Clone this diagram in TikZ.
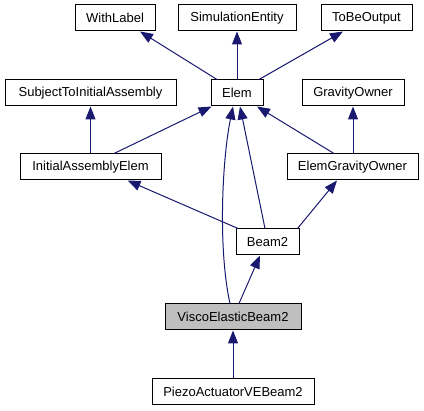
\documentclass[tikz,border=0pt]{standalone}
\usepackage{fontspec}
\setmainfont{Liberation Sans}
\usetikzlibrary{arrows.meta}
\definecolor{edgeblue}{HTML}{191970}
\definecolor{boxgray}{HTML}{BFBFBF}
\tikzset{
  cls/.style={draw=black, line width=1pt, fill=white, inner sep=0pt,
    minimum height=26pt, font=\fontsize{13}{15}\selectfont},
  inh/.style={draw=edgeblue, line width=1pt,
    -{Triangle[length=13pt,width=10pt]}, shorten >=0pt}
}
\begin{document}
\begin{tikzpicture}[x=1pt,y=-1pt]
\useasboundingbox (0,0) rectangle (424,411);
% row 1
\node[cls, minimum width=80pt]  (wl)  at (115,18)   {WithLabel};
\node[cls, minimum width=118pt] (se)  at (237,18)   {SimulationEntity};
\node[cls, minimum width=91pt]  (tbo) at (366.5,18) {ToBeOutput};
% row 2
\node[cls, minimum width=171pt] (sta) at (90.5,93)  {SubjectToInitialAssembly};
\node[cls, minimum width=52pt]  (elem) at (237,93)  {Elem};
\node[cls, minimum width=102pt] (go)  at (353,93)   {GravityOwner};
% row 3
\node[cls, minimum width=141pt] (iae) at (90.5,167) {InitialAssemblyElem};
\node[cls, minimum width=131pt] (ego) at (352.5,167) {ElemGravityOwner};
% row 4
\node[cls, minimum width=63pt]  (beam) at (267.5,242) {Beam2};
% row 5
\node[cls, minimum width=136pt, fill=boxgray] (veb) at (233,317) {ViscoElasticBeam2};
% row 6
\node[cls, minimum width=162pt] (pz)  at (233,392)  {PiezoActuatorVEBeam2};
% edges
\draw[inh] ([xshift=-20pt]elem.north) -- ([xshift=25pt]wl.south);
\draw[inh] (elem.north) -- (se.south);
\draw[inh] ([xshift=22pt]elem.north) -- ([xshift=-23.5pt]tbo.south);
\draw[inh] ([xshift=23.5pt]iae.north) -- ([xshift=1pt]elem.south west);
\draw[inh] (iae.north) -- (sta.south);
\draw[inh] ([xshift=-18.5pt]ego.north) -- ([xshift=20pt]elem.south);
\draw[inh] ([xshift=0.5pt]ego.north) -- (go.south);
\draw[inh] ([xshift=-29.5pt]beam.north) -- ([xshift=37pt]iae.south);
\draw[inh] ([xshift=-2.5pt]beam.north) -- ([xshift=3pt]elem.south);
\draw[inh] ([xshift=30pt]beam.north) -- ([xshift=-15.5pt]ego.south);
\draw[inh] ([xshift=-3pt]veb.north) .. controls +(-12,-54) and +(-11,54) .. ([xshift=-4pt]elem.south);
\draw[inh] ([xshift=6pt]veb.north) -- ([xshift=-7.5pt]beam.south);
\draw[inh] (pz.north) -- (veb.south);
\end{tikzpicture}
\end{document}
